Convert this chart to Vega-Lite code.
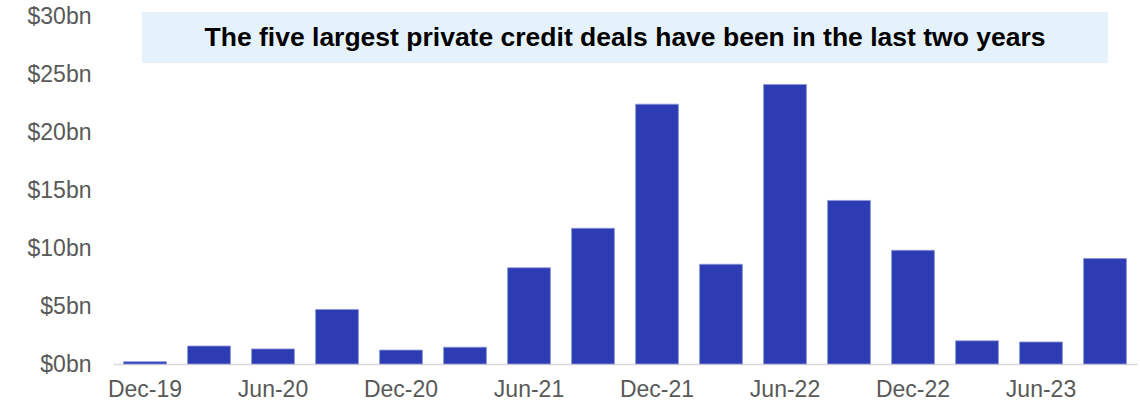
{
  "$schema": "https://vega.github.io/schema/vega-lite/v6.json",
  "width": 1024,
  "height": 348,
  "autosize": {"type": "none"},
  "padding": {"left": 113, "top": 16, "right": 3, "bottom": 39},
  "background": "white",
  "config": {
    "view": {"stroke": null},
    "font": "Liberation Sans"
  },
  "layer": [
    {
      "data": {
        "values": [
          {"quarter": "Dec-19", "value": 0.2},
          {"quarter": "Mar-20", "value": 1.55},
          {"quarter": "Jun-20", "value": 1.3},
          {"quarter": "Sep-20", "value": 4.7},
          {"quarter": "Dec-20", "value": 1.2},
          {"quarter": "Mar-21", "value": 1.45},
          {"quarter": "Jun-21", "value": 8.3},
          {"quarter": "Sep-21", "value": 11.7},
          {"quarter": "Dec-21", "value": 22.4},
          {"quarter": "Mar-22", "value": 8.6},
          {"quarter": "Jun-22", "value": 24.1},
          {"quarter": "Sep-22", "value": 14.1},
          {"quarter": "Dec-22", "value": 9.8},
          {"quarter": "Mar-23", "value": 2.0},
          {"quarter": "Jun-23", "value": 1.9},
          {"quarter": "Sep-23", "value": 9.1}
        ]
      },
      "mark": {"type": "bar", "color": "#2E3CB4", "stroke": "#8F98DA", "strokeWidth": 0.8},
      "encoding": {
        "x": {
          "field": "quarter",
          "type": "nominal",
          "scale": {
            "domain": ["Dec-19","Mar-20","Jun-20","Sep-20","Dec-20","Mar-21","Jun-21","Sep-21","Dec-21","Mar-22","Jun-22","Sep-22","Dec-22","Mar-23","Jun-23","Sep-23"],
            "paddingInner": 0.33,
            "paddingOuter": 0.165
          },
          "axis": {
            "title": null,
            "bandPosition": 0.5,
            "values": ["Dec-19","Jun-20","Dec-20","Jun-21","Dec-21","Jun-22","Dec-22","Jun-23"],
            "labelAngle": 0,
            "labelAlign": "center",
            "labelBaseline": "top",
            "labelFont": "Liberation Sans",
            "labelFontSize": 23,
            "labelColor": "#595959",
            "labelPadding": 14,
            "ticks": false,
            "domainColor": "#D9D9D9",
            "domainWidth": 1.5,
            "grid": false
          }
        },
        "y": {
          "field": "value",
          "type": "quantitative",
          "scale": {"domain": [0, 30], "nice": false},
          "axis": {
            "title": null,
            "values": [0, 5, 10, 15, 20, 25, 30],
            "labelExpr": "'$' + datum.value + 'bn'",
            "labelFont": "Liberation Sans",
            "labelFontSize": 23,
            "labelColor": "#595959",
            "labelPadding": 22,
            "ticks": false,
            "domain": false,
            "grid": false
          }
        }
      }
    },
    {
      "data": {"values": [{}]},
      "mark": {"type": "rect", "color": "#E6F2FB"},
      "encoding": {
        "x": {"datum": "Dec-19", "type": "nominal", "bandPosition": 0.43},
        "x2": {"datum": "Sep-23", "bandPosition": 0.57},
        "y": {"datum": 30.34, "type": "quantitative"},
        "y2": {"datum": 25.95}
      }
    },
    {
      "data": {"values": [{}]},
      "mark": {"type": "text", "font": "Liberation Sans", "fontSize": 26.5, "fontWeight": "bold", "color": "#000000", "baseline": "middle", "align": "center"},
      "encoding": {
        "text": {"value": "The five largest private credit deals have been in the last two years"},
        "y": {"datum": 28.1, "type": "quantitative"}
      }
    }
  ]
}
